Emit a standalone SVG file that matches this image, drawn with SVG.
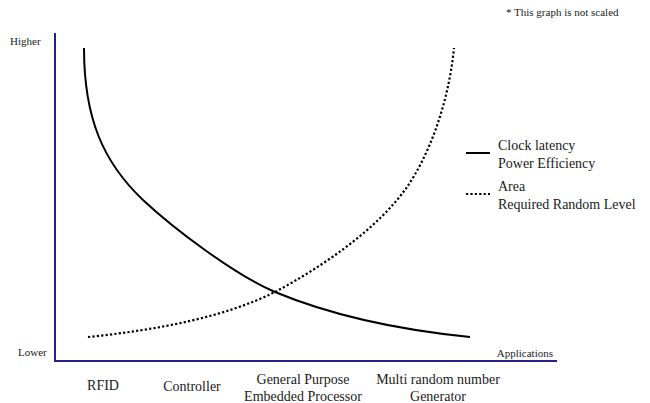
<svg xmlns="http://www.w3.org/2000/svg" width="650" height="403" viewBox="0 0 650 403" font-family="'Liberation Serif', 'Times New Roman', 'DejaVu Serif', serif">
<style>
text{font-family:'Liberation Serif','Times New Roman','DejaVu Serif',serif;fill:#1a1a1a}
.s{font-size:11px}
.m{font-size:14px}
.axis{stroke:#22228a;stroke-width:2;fill:none}
.solid{stroke:#000;stroke-width:2;fill:none}
.dot{stroke:#000;stroke-width:2.2;fill:none;stroke-dasharray:2.2 2.2}
</style>
<rect width="650" height="403" fill="#fff"/>
<g id="axes">
<line class="axis" x1="55" y1="33" x2="55" y2="361"/>
<line class="axis" x1="54" y1="361" x2="557" y2="361"/>
</g>
<g id="connectors">
<path id="solid-curve" class="solid" d="M84,48 C84,118 103,162 143,200 C174,229 235,275 275,292 C340,319 410,331 470,337"/>
<path id="dotted-curve" class="dot" d="M88,337 C157,330 225,317 275,292 C320,268 377,230 407,187 C427,158 448,108 454,48"/>
</g>
<g id="axis-labels">
<text class="s" x="10" y="45">Higher</text>
<text class="s" x="18" y="356">Lower</text>
<text class="s" x="553" y="357" text-anchor="end">Applications</text>
<text class="s" x="506" y="16">* This graph is not scaled</text>
</g>
<g id="legend">
<line class="solid" x1="466" y1="153" x2="490" y2="153"/>
<text class="m" x="498" y="150">Clock latency</text>
<text class="m" x="498" y="168">Power Efficiency</text>
<line class="dot" x1="466" y1="194" x2="490" y2="194"/>
<text class="m" x="498" y="191">Area</text>
<text class="m" x="498" y="209">Required Random Level</text>
</g>
<g id="categories" text-anchor="middle">
<text class="m" x="103" y="390">RFID</text>
<text class="m" x="192" y="391">Controller</text>
<text class="m" x="303" y="384">General Purpose</text>
<text class="m" x="303" y="401">Embedded Processor</text>
<text class="m" x="438" y="384">Multi random number</text>
<text class="m" x="438" y="401">Generator</text>
</g>
</svg>
